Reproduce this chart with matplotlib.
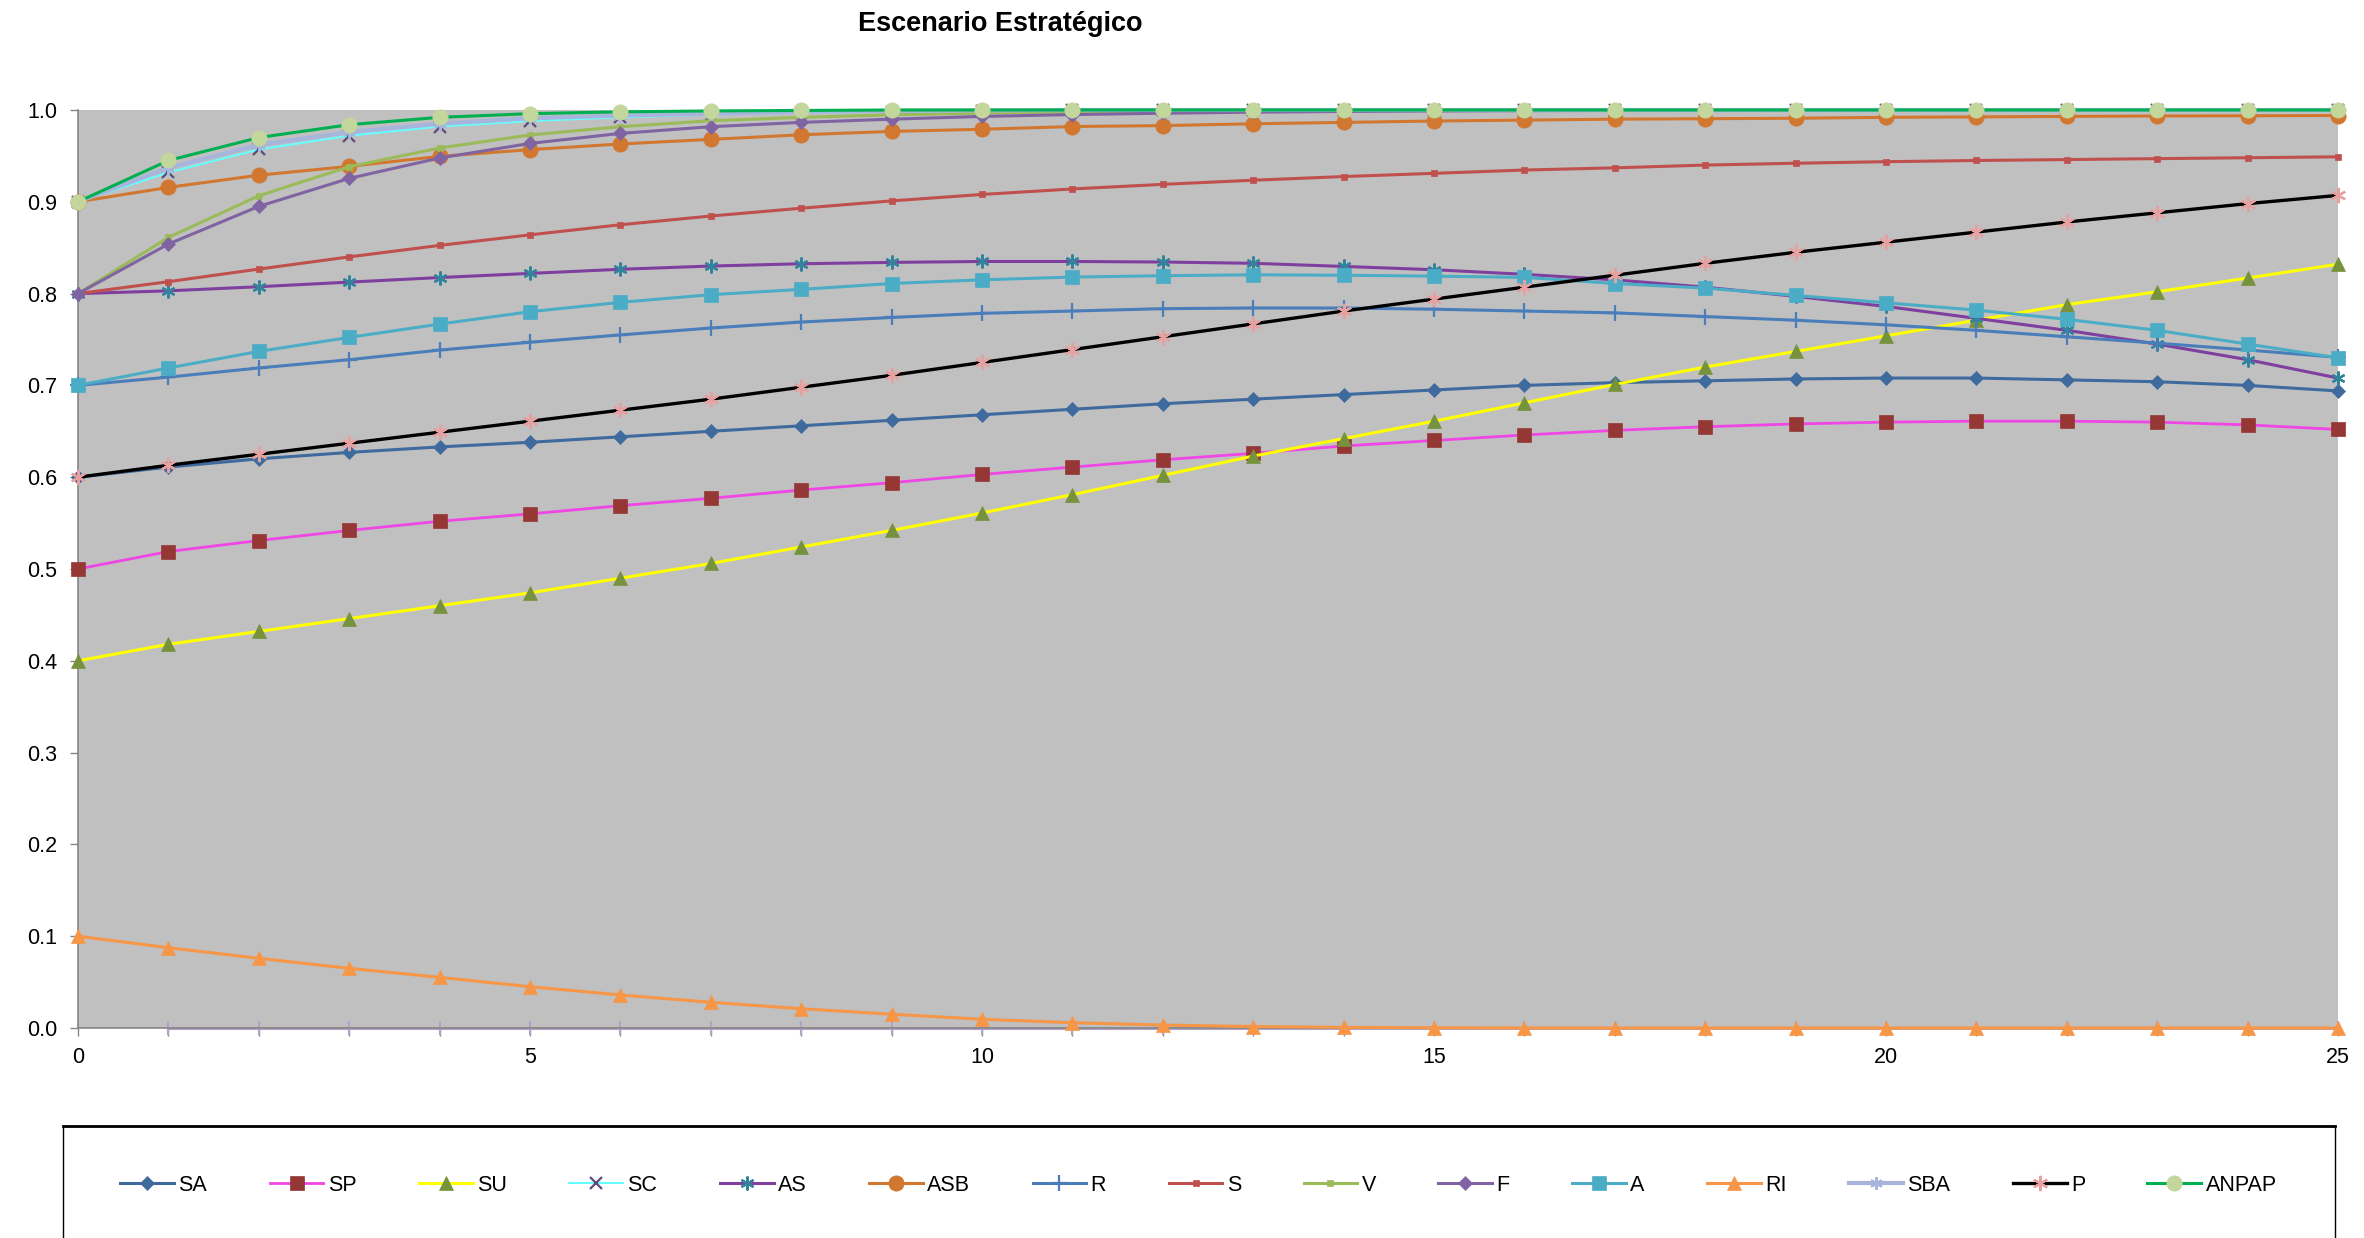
import numpy as np
import matplotlib
matplotlib.use("Agg")
import matplotlib.pyplot as plt
from matplotlib.lines import Line2D
from matplotlib.patches import Rectangle
from matplotlib.ticker import MultipleLocator, FormatStrFormatter

plt.rcParams['font.family'] = ['Liberation Sans Narrow', 'Liberation Sans', 'DejaVu Sans']

years = np.arange(26)

SA = [0.600, 0.611, 0.620, 0.627, 0.633, 0.638, 0.644, 0.650, 0.656, 0.662, 0.668, 0.674, 0.680,
      0.685, 0.690, 0.695, 0.700, 0.703, 0.705, 0.707, 0.708, 0.708, 0.706, 0.704, 0.700, 0.694]
SP = [0.500, 0.519, 0.531, 0.542, 0.552, 0.560, 0.569, 0.577, 0.586, 0.594, 0.603, 0.611, 0.619,
      0.626, 0.634, 0.640, 0.646, 0.651, 0.655, 0.658, 0.660, 0.661, 0.661, 0.660, 0.657, 0.652]
SU = [0.400, 0.418, 0.432, 0.446, 0.460, 0.474, 0.490, 0.506, 0.524, 0.542, 0.561, 0.581, 0.602,
      0.623, 0.642, 0.661, 0.681, 0.701, 0.720, 0.737, 0.754, 0.771, 0.788, 0.802, 0.817, 0.832]
SC = [0.900, 0.932, 0.957, 0.972, 0.982, 0.988, 0.992, 0.995, 0.997, 0.998, 0.999, 0.9995, 1.0,
      1.0, 1.0, 1.0, 1.0, 1.0, 1.0, 1.0, 1.0, 1.0, 1.0, 1.0, 1.0, 1.0]
AS = [0.800, 0.803, 0.8075, 0.8125, 0.8175, 0.822, 0.8265, 0.830, 0.8325, 0.834, 0.835, 0.835, 0.8344,
      0.833, 0.8296, 0.826, 0.821, 0.815, 0.807, 0.797, 0.786, 0.773, 0.760, 0.745, 0.728, 0.708]
ASB = [0.900, 0.9157, 0.929, 0.9386, 0.9495, 0.9568, 0.963, 0.968, 0.973, 0.9767, 0.979, 0.982, 0.983,
       0.985, 0.9865, 0.988, 0.989, 0.990, 0.9905, 0.991, 0.992, 0.9925, 0.993, 0.9935, 0.9937, 0.994]
R = [0.700, 0.709, 0.719, 0.728, 0.7385, 0.747, 0.755, 0.7625, 0.769, 0.774, 0.7785, 0.781, 0.7836,
     0.7843, 0.7843, 0.783, 0.781, 0.779, 0.775, 0.771, 0.766, 0.760, 0.753, 0.746, 0.7386, 0.7305]
S = [0.800, 0.813, 0.8267, 0.840, 0.8525, 0.864, 0.875, 0.8845, 0.893, 0.901, 0.908, 0.914, 0.919,
     0.9235, 0.9275, 0.931, 0.9346, 0.937, 0.940, 0.942, 0.9437, 0.945, 0.946, 0.947, 0.948, 0.949]
V = [0.800, 0.8612, 0.9066, 0.9382, 0.9586, 0.9728, 0.9818, 0.9883, 0.992, 0.9948, 0.9965, 0.9977, 0.9985,
     0.999, 0.9994, 0.9996, 0.9998, 1.0, 1.0, 1.0, 1.0, 1.0, 1.0, 1.0, 1.0, 1.0]
F = [0.800, 0.854, 0.895, 0.9255, 0.9477, 0.9636, 0.9745, 0.9818, 0.9865, 0.990, 0.993, 0.995, 0.9965,
     0.9976, 0.9984, 0.9989, 0.9993, 0.9995, 0.9997, 0.9998, 0.9999, 0.9999, 0.9999, 0.9999, 0.9999, 0.9999]
A = [0.700, 0.719, 0.737, 0.7523, 0.7668, 0.7803, 0.7905, 0.7988, 0.8046, 0.811, 0.815, 0.818, 0.8195,
     0.8205, 0.820, 0.819, 0.8177, 0.811, 0.806, 0.798, 0.790, 0.782, 0.772, 0.760, 0.745, 0.730]
RI = [0.100, 0.0875, 0.0759, 0.065, 0.0552, 0.045, 0.036, 0.028, 0.021, 0.015, 0.0095, 0.0058, 0.0032,
      0.0016, 0.0007, 0.0003, 0.0, 0.0, 0.0, 0.0, 0.0, 0.0, 0.0, 0.0, 0.0, 0.0]
SBA = [0.900, 0.937, 0.962, 0.976, 0.985, 0.991, 0.994, 0.996, 0.998, 0.999, 0.9995, 1.0, 1.0,
       1.0, 1.0, 1.0, 1.0, 1.0, 1.0, 1.0, 1.0, 1.0, 1.0, 1.0, 1.0, 1.0]
P = [0.600, 0.613, 0.625, 0.637, 0.649, 0.661, 0.673, 0.685, 0.698, 0.711, 0.725, 0.739, 0.753,
     0.767, 0.781, 0.794, 0.807, 0.820, 0.833, 0.845, 0.856, 0.867, 0.878, 0.888, 0.898, 0.907]
ANPAP = [0.900, 0.945, 0.970, 0.984, 0.992, 0.996, 0.998, 0.999, 0.9995, 1.0, 1.0, 1.0, 1.0,
         1.0, 1.0, 1.0, 1.0, 1.0, 1.0, 1.0, 1.0, 1.0, 1.0, 1.0, 1.0, 1.0]
# serie sin leyenda que va pegada al eje (sin dato en el año 0)
BASE = [np.nan] + [0.0] * 25

ASTER = (6, 2, 0)

# nombre, datos, color linea, marcador, color marcador, tamaño, grosor
series = [
    ("SA", SA, "#3E6A9E", "D", "#3E6A9E", 6.8, 2.2),
    ("SP", SP, "#F046E6", "s", "#953735", 10, 2.0),
    ("SU", SU, "#FFFF00", "^", "#76923C", 10, 2.2),
    ("SC", SC, "#66FFFF", "x", "#604A7B", 9, 1.5),
    ("AS", AS, "#7F3F9F", ASTER, "#31849B", 10, 2.2),
    ("ASB", ASB, "#D2772F", "o", "#D2772F", 11, 2.2),
    ("R", R, "#4A7EBB", "+", "#4A7EBB", 11, 2.2),
    ("S", S, "#C0504D", "s", "#C0504D", 4.5, 2.2),
    ("V", V, "#9BBB59", "s", "#9BBB59", 5, 2.2),
    ("F", F, "#8064A2", "D", "#8064A2", 6.8, 2.2),
    ("A", A, "#4BACC6", "s", "#4BACC6", 10, 2.2),
    ("RI", RI, "#F79646", "^", "#F79646", 10, 2.2),
    ("SBA", SBA, "#A7B4DC", ASTER, "#A7B4DC", 9, 3.0),
    ("P", P, "#000000", ASTER, "#E6A0A0", 11, 2.4),
    ("ANPAP", ANPAP, "#00B050", "o", "#C3D69B", 11, 2.2),
]

fig = plt.figure(figsize=(23.64, 12.38), dpi=100)
ax = fig.add_axes([78 / 2364, 1 - 1028 / 1238, 2260 / 2364, 918 / 1238])
ax.set_facecolor("#C0C0C0")

ax.plot(years, BASE, color="#B3A2C7", linewidth=2.2, marker="|", markersize=10,
        markeredgewidth=1.5, clip_on=False, zorder=2)

handles = []
for i, (name, vals, lc, mk, mc, ms, lw) in enumerate(series):
    hollow = mk in ("x", "+", ASTER)
    kw = dict(color=lc, linewidth=lw, marker=mk, markersize=ms,
              markeredgecolor=mc, markerfacecolor=mc,
              markeredgewidth=1.6 if hollow else 0.5)
    line, = ax.plot(years, vals, clip_on=False, zorder=3 + i, label=name, **kw)
    handles.append(Line2D([], [], **kw))

ax.set_xlim(0, 25)
ax.set_ylim(0, 1.0)
ax.xaxis.set_major_locator(MultipleLocator(5))
ax.xaxis.set_minor_locator(MultipleLocator(1))
ax.yaxis.set_major_locator(MultipleLocator(0.1))
ax.yaxis.set_major_formatter(FormatStrFormatter("%.1f"))
ax.tick_params(axis="both", which="both", direction="out", length=6, width=1,
               color="#868686", labelsize=15.5, labelcolor="black")
ax.tick_params(axis="y", pad=9)
ax.tick_params(axis="x", pad=8)
for side in ("top", "right"):
    ax.spines[side].set_visible(False)
for side in ("left", "bottom"):
    ax.spines[side].set_color("#868686")
    ax.spines[side].set_linewidth(1.2)

fig.text(0.423, 0.981, "Escenario Estratégico", ha="center", va="center",
         fontsize=19.5, fontweight="bold")

# leyenda en una sola fila dentro de un recuadro
fig.legend(handles, [s[0] for s in series], loc="center", bbox_to_anchor=(0.507, 0.0428),
           ncol=15, frameon=False, fontsize=15.5, handlelength=2.5, handletextpad=0.2,
           columnspacing=2.9, numpoints=1)
fig.patches.append(Rectangle((63 / 2364, -0.05), (2335 - 63) / 2364, 0.05 + (1238 - 1126) / 1238,
                             transform=fig.transFigure, fill=False, edgecolor="black", linewidth=1.0))
fig.lines.append(Line2D([63 / 2364, 2335 / 2364], [1 - 1126 / 1238] * 2, transform=fig.transFigure,
                        color="black", linewidth=2.0))

fig.savefig("out.png", dpi=100)
